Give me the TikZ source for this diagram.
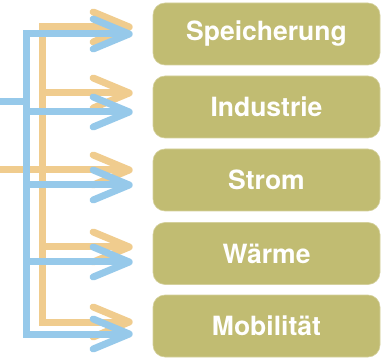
\documentclass[tikz,border=0pt]{standalone}
\usepackage{fontspec}
\setsansfont{TeX Gyre Heros}
\usepackage{tikz}
\usetikzlibrary{arrows.meta,calc}
\definecolor{sector}{HTML}{C1BC72}
\definecolor{orangeflow}{HTML}{F0CC8E}
\definecolor{blueflow}{HTML}{96C9EA}
\tikzset{
  box/.style={rectangle, rounded corners=12pt, fill=sector, draw=sector!70!white, line width=0.6pt,
    minimum width=227pt, minimum height=62pt, inner sep=0pt,
    text=white, font=\sffamily\bfseries\fontsize{26.5}{30}\selectfont},
  flow/.style={line width=7pt, line join=miter},
  barb/.tip={Straight Barb[length=36pt,width=30pt,round]},
  tip/.style={-barb},
  orange/.style={flow, draw=orangeflow},
  blue/.style={flow, draw=blueflow}
}

\begin{document}
\begin{tikzpicture}[x=1pt, y=-1pt]
    \useasboundingbox (0,0) rectangle (383,358);

    % --- SECTORS ---
    \node[box] (spei) at (266.5,34)  {Speicherung};
    \node[box] (ind)  at (266.5,107) {Industrie};
    \node[box] (strom) at (266.5,180) {Strom};
    \node[box] (waer) at (266.5,253.5) {Wärme};
    \node[box] (mob)  at (266.5,326) {Mobilität};

    % --- ORANGE FLOW ---
    \coordinate (oin) at (0,170);
    \coordinate (otop) at (42,27);
    \coordinate (obot) at (42,322);
    \draw[orange, barb-barb]
        ($(spei.west)+(-20,-7)$) -- (otop) -- (obot) -- ($(mob.west)+(-20,-4)$);
    \draw[orange, tip] (42,93) -- ($(ind.west)+(-20,-14)$);
    \draw[orange, tip] (oin) -- ($(strom.west)+(-20,-10)$);
    \draw[orange, tip] (42,247) -- ($(waer.west)+(-20,-6.5)$);

    % --- BLUE FLOW ---
    \coordinate (bin) at (0,102);
    \coordinate (btop) at (26,34);
    \coordinate (bbot) at (26,334);
    \draw[blue, barb-barb]
        ($(spei.west)+(-20,0)$) -- (btop) -- (bbot) -- ($(mob.west)+(-20,8)$);
    \draw[blue] (bin) -- (26,102);
    \draw[blue, tip] (26,112) -- ($(ind.west)+(-20,5)$);
    \draw[blue, tip] (26,185) -- ($(strom.west)+(-20,5)$);
    \draw[blue, tip] (26,262) -- ($(waer.west)+(-20,8.5)$);
\end{tikzpicture}
\end{document}
